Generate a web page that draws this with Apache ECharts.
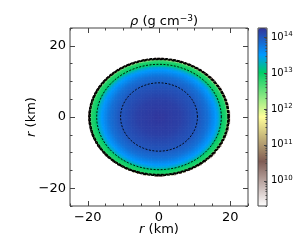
<!DOCTYPE html>
<html><head><meta charset="utf-8">
<script src="https://cdn.jsdelivr.net/npm/echarts@6/dist/echarts.min.js"></script>
<style>html,body{margin:0;padding:0;background:#fff}#c{width:300px;height:250px}</style>
</head><body><div id="c"></div>
<script>
// ---- data ----
// star outline semi-axes (km)
const starA = 19.7, starB = 16.45;
// log10 density profile along normalised elliptical radius s
const profileS   = [0.00, 0.30, 0.55, 0.70, 0.80, 0.86, 0.895, 0.91, 0.96, 0.975, 0.985, 1.00];
const profileLog = [14.22, 14.15, 14.00, 13.80, 13.55, 13.35, 13.05, 12.95, 12.85, 12.6, 12.0, 10.0];
// contour levels (log10 rho) and their semi-axes (km)
const contourLevels = [14, 13, 12, 11, 10];
const contourA = [10.8, 17.5, 19.35, 19.55, 19.7];
const contourB = [9.6, 14.8, 16.15, 16.3, 16.45];
// tick labels
const majorTicks = [-20, 0, 20];
const minorTicks = [-25, -15, -10, -5, 5, 10, 15, 25];
const cbarTicks = [10, 11, 12, 13, 14];
const logMin = 9.3, logMax = 14.25;
// terrain_r colour map anchors
const cmapPos = [0, 0.25, 0.5, 0.75, 0.85, 1.0];
const cmapCol = [[255,255,255],[128,92,84],[255,255,153],[0,204,102],[0,153,255],[51,51,153]];

// ---- build ----
function interp(xs, ys, x) {
  for (let i = 1; i < xs.length; i++) {
    if (x <= xs[i]) { const t = (x - xs[i-1]) / (xs[i] - xs[i-1]); return ys[i-1] + t * (ys[i] - ys[i-1]); }
  }
  return ys[ys.length - 1];
}
const cmapList = [];
for (let k = 0; k <= 20; k++) {
  const f = k / 20;
  const c = [0,1,2].map(j => Math.round(interp(cmapPos, cmapCol.map(cc => cc[j]), f)));
  cmapList.push('rgb(' + c.join(',') + ')');
}
const step = 0.4;
const cells = [];
for (let x = -25 + step/2; x < 25; x += step) {
  for (let y = -25 + step/2; y < 25; y += step) {
    const s = Math.sqrt((x/starA)*(x/starA) + (y/starB)*(y/starB));
    if (s <= 1) cells.push([x, y, interp(profileS, profileLog, s)]);
  }
}
const contourSeries = contourLevels.map((lv, i) => {
  const pts = [];
  for (let d = 0; d <= 360; d += 3) {
    const t = d * Math.PI / 180;
    pts.push([contourA[i] * Math.cos(t), contourB[i] * Math.sin(t)]);
  }
  const outer = i >= 2;
  return { type: 'line', name: 'c' + lv, data: pts, showSymbol: false, symbol: 'none', silent: true,
    xAxisIndex: 0, yAxisIndex: 0, z: 5,
    lineStyle: { color: '#000', width: outer ? 1.3 : 0.9, type: outer ? [3, 1] : [2, 1.5] } };
});
const cbarMinor = [];
for (let n = 9; n <= 14; n++) for (let k = 2; k <= 9; k++) {
  const v = n + Math.log10(k);
  if (v > logMin && v < logMax) cbarMinor.push(v);
}
const FONT = 'DejaVu Sans';
const tickColor = '#444';
const minus = v => String(v).replace('-', '\u2212');
function axisPair(pos, major, isY) {
  const base = { gridIndex: 0, type: 'value', min: -25, max: 25, position: pos,
    axisLine: { show: false, onZero: false }, splitLine: { show: false } };
  return [
    Object.assign({}, base, {
      axisTick: { show: true, inside: true, length: 5, customValues: majorTicks, lineStyle: { color: tickColor, width: 1 } },
      axisLabel: major ? { show: true, customValues: majorTicks, formatter: minus, fontSize: 13, fontFamily: FONT, color: '#000', margin: isY ? 4 : 5 } : { show: false }
    }),
    Object.assign({}, base, {
      axisTick: { show: true, inside: true, length: 2.5, customValues: minorTicks, lineStyle: { color: tickColor, width: 1 } },
      axisLabel: { show: false }
    })
  ];
}
const nameStyle = { fontSize: 13, fontFamily: FONT, color: '#000',
  rich: { i: { fontSize: 13, fontFamily: FONT, fontStyle: 'italic', color: '#000' }, n: { fontSize: 13, fontFamily: FONT, color: '#000' } } };
const xAxes = [...axisPair('bottom', true, false), ...axisPair('top', false, false)];
Object.assign(xAxes[0], { name: '{i|r}{n| (km)}', nameLocation: 'middle', nameGap: 17, nameMoveOverlap: false, nameTextStyle: nameStyle });
const yAxes = [...axisPair('left', true, true), ...axisPair('right', false, true)];
Object.assign(yAxes[0], { name: '{i|r}{n| (km)}', nameLocation: 'middle', nameGap: 32, nameMoveOverlap: false, nameTextStyle: nameStyle });
xAxes.push({ gridIndex: 1, type: 'value', show: false, min: 0, max: 1 });
yAxes.push({ gridIndex: 1, type: 'value', min: logMin, max: logMax, position: 'right', z: 10,
  axisLine: { show: false, onZero: false }, splitLine: { show: false },
  axisTick: { show: true, inside: true, length: 3, customValues: cbarTicks, lineStyle: { color: tickColor } },
  axisLabel: { show: true, customValues: cbarTicks, margin: 4, fontSize: 10, fontFamily: FONT, color: '#000',
    formatter: v => '{b|10}{s|' + v + '}',
    rich: { b: { fontSize: 10, fontFamily: FONT, color: '#000' }, s: { fontSize: 7, fontFamily: FONT, color: '#000', padding: [0, 0, 6, 0] } } } });
yAxes.push({ gridIndex: 1, type: 'value', min: logMin, max: logMax, position: 'right', z: 10,
  axisLine: { show: false, onZero: false }, splitLine: { show: false },
  axisTick: { show: true, inside: true, length: 1.5, customValues: cbarMinor, lineStyle: { color: tickColor } },
  axisLabel: { show: false } });

const chart = echarts.init(document.getElementById('c'), null, { renderer: 'canvas' });
chart.setOption({
  animation: false,
  backgroundColor: '#fff',
  title: { text: '{r|\u03c1}{n| (g cm}{s|\u22123}{n|)}', left: 159, top: 9, textAlign: 'center',
    textStyle: { fontSize: 13, fontFamily: FONT, color: '#000', fontWeight: 'normal',
      rich: { r: { fontSize: 13, fontFamily: FONT, fontStyle: 'italic', color: '#000' },
              n: { fontSize: 13, fontFamily: FONT, color: '#000' },
              s: { fontSize: 9, fontFamily: FONT, color: '#000', padding: [0, 0, 7, 0] } } } },
  grid: [
    { left: 70, top: 28, width: 178, height: 178, show: true, borderColor: tickColor, borderWidth: 1, backgroundColor: 'transparent', z: 10 },
    { left: 258, top: 28, width: 9, height: 178, show: true, borderColor: tickColor, borderWidth: 1, backgroundColor: 'transparent', z: 10 }
  ],
  xAxis: xAxes,
  yAxis: yAxes,
  visualMap: [{
    type: 'continuous', min: logMin, max: logMax, seriesIndex: 0, dimension: 2,
    inRange: { color: cmapList }, calculable: false, show: true,
    orient: 'vertical', left: 258, top: 28, itemWidth: 9, itemHeight: 178, padding: 0, text: null, showLabel: false
  }],
  series: [{
    type: 'custom', xAxisIndex: 0, yAxisIndex: 0, data: cells, silent: true, clip: true,
    renderItem: function (params, api) {
      const x = api.value(0), y = api.value(1);
      const p0 = api.coord([x - step/2, y + step/2]);
      const p1 = api.coord([x + step/2, y - step/2]);
      return { type: 'rect', shape: { x: p0[0], y: p0[1], width: p1[0] - p0[0] + 0.6, height: p1[1] - p0[1] + 0.6 },
        style: { fill: api.visual('color') } };
    }
  }, ...contourSeries]
});
</script></body></html>
